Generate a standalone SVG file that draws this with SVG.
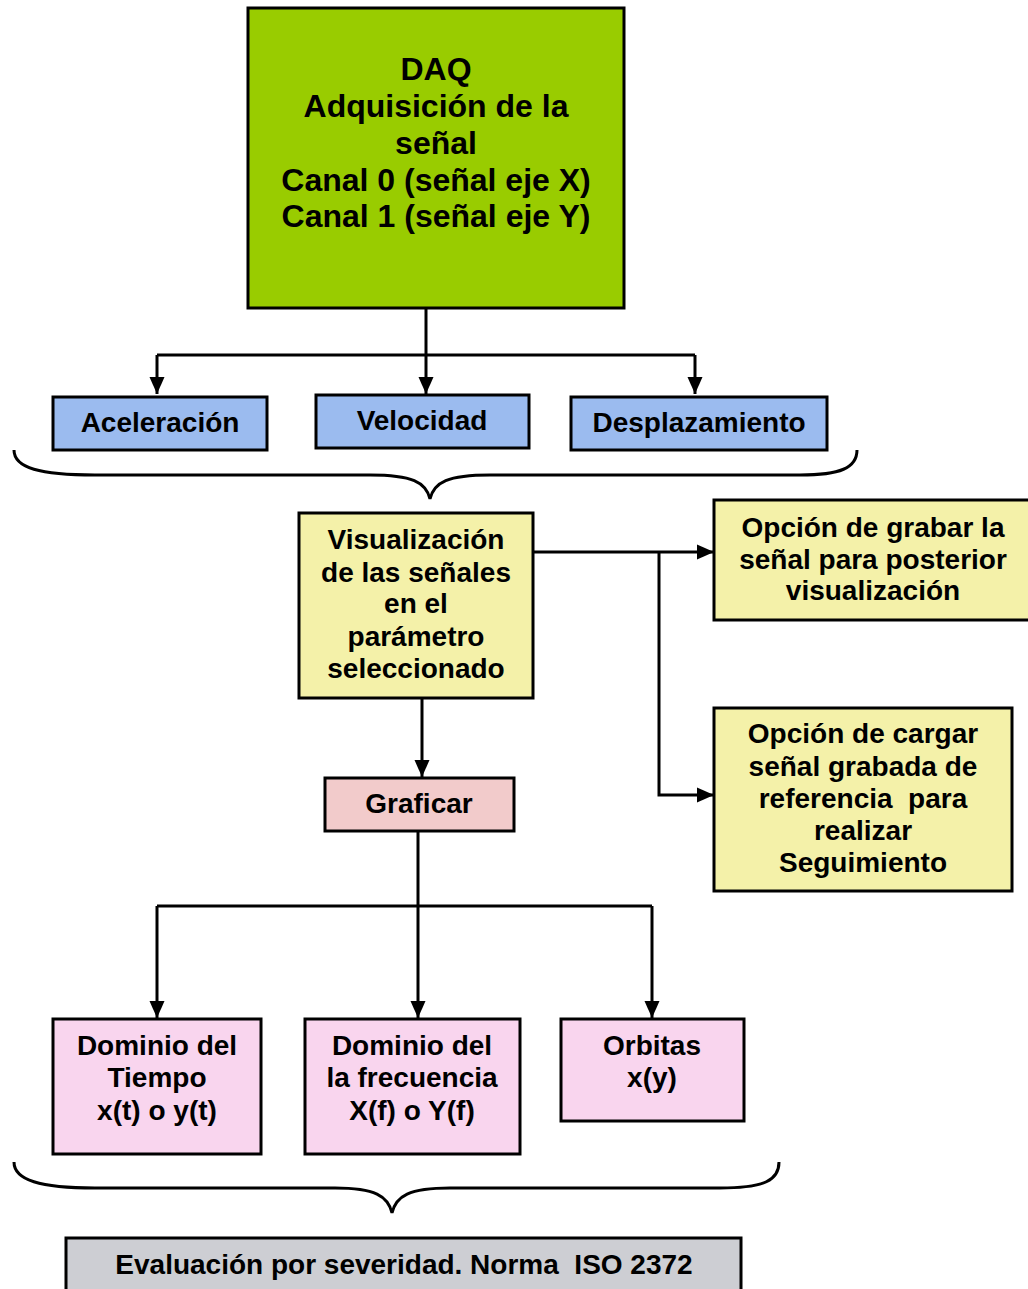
<svg xmlns="http://www.w3.org/2000/svg" width="1028" height="1289" viewBox="0 0 1028 1289">
<style>
.box{stroke:#000;stroke-width:3}
.t{font-family:"Liberation Sans",Arial,sans-serif;font-weight:bold;font-size:28px;fill:#000;text-anchor:middle;white-space:pre}
.big{font-size:32px}
.ln{fill:none;stroke:#000;stroke-width:3}
</style>
<defs>
<marker id="ah" markerUnits="userSpaceOnUse" markerWidth="18" markerHeight="18" viewBox="0 0 18 18" refX="17" refY="9" orient="auto">
<path d="M0,1.5 L17,9 L0,16.5 Z" fill="#000"/>
</marker>
</defs>
<rect width="1028" height="1289" fill="#fff"/>
<g id="connectors">
<path class="ln" d="M426,308 V355"/>
<path class="ln" d="M157,355 H695"/>
<path class="ln" d="M157,355 V394" marker-end="url(#ah)"/>
<path class="ln" d="M426,355 V394" marker-end="url(#ah)"/>
<path class="ln" d="M695,355 V394" marker-end="url(#ah)"/>
<path class="ln" d="M14,450 C14,468 40,475 95,475 L370,475 C412,475 426,482 430,499 C434,482 448,475 490,475 L800,475 C840,475 857,468 857,450"/>
<path class="ln" d="M533,552 H714" marker-end="url(#ah)"/>
<path class="ln" d="M659,552 V795 H714" marker-end="url(#ah)"/>
<path class="ln" d="M422,698 V777" marker-end="url(#ah)"/>
<path class="ln" d="M418,831 V1018" marker-end="url(#ah)"/>
<path class="ln" d="M157,906 H652"/>
<path class="ln" d="M157,906 V1018" marker-end="url(#ah)"/>
<path class="ln" d="M652,906 V1018" marker-end="url(#ah)"/>
<path class="ln" d="M14,1162 C14,1180 40,1188 95,1188 L335,1188 C375,1188 388,1196 392,1213 C396,1196 409,1188 450,1188 L720,1188 C765,1188 779,1180 779,1162"/>
</g>
<g id="daq">
<rect class="box" x="248" y="8" width="376" height="300" fill="#99CC00"/>
<text class="t big" x="436" y="80">DAQ</text>
<text class="t big" x="436" y="117">Adquisición de la</text>
<text class="t big" x="436" y="154">señal</text>
<text class="t big" x="436" y="191">Canal 0 (señal eje X)</text>
<text class="t big" x="436" y="227">Canal 1 (señal eje Y)</text>
</g>
<g id="aceleracion">
<rect class="box" x="53" y="397" width="214" height="53" fill="#9BBBEF"/>
<text class="t" x="160" y="432">Aceleración</text>
</g>
<g id="velocidad">
<rect class="box" x="316" y="395" width="213" height="53" fill="#9BBBEF"/>
<text class="t" x="422" y="430">Velocidad</text>
</g>
<g id="desplazamiento">
<rect class="box" x="571" y="397" width="256" height="53" fill="#9BBBEF"/>
<text class="t" x="699" y="432">Desplazamiento</text>
</g>
<g id="visualizacion">
<rect class="box" x="299" y="513" width="234" height="185" fill="#F4F1A9"/>
<text class="t" x="416" y="549">Visualización</text>
<text class="t" x="416" y="582">de las señales</text>
<text class="t" x="416" y="613">en el</text>
<text class="t" x="416" y="646">parámetro</text>
<text class="t" x="416" y="678">seleccionado</text>
</g>
<g id="grabar">
<rect class="box" x="714" y="500" width="320" height="120" fill="#F4F1A9"/>
<text class="t" x="873" y="537">Opción de grabar la</text>
<text class="t" x="873" y="569">señal para posterior</text>
<text class="t" x="873" y="600">visualización</text>
</g>
<g id="cargar">
<rect class="box" x="714" y="708" width="298" height="183" fill="#F4F1A9"/>
<text class="t" x="863" y="743">Opción de cargar</text>
<text class="t" x="863" y="776">señal grabada de</text>
<text class="t" x="863" y="808">referencia  para</text>
<text class="t" x="863" y="840">realizar</text>
<text class="t" x="863" y="872">Seguimiento</text>
</g>
<g id="graficar">
<rect class="box" x="325" y="778" width="189" height="53" fill="#F2CBCB"/>
<text class="t" x="419" y="813">Graficar</text>
</g>
<g id="tiempo">
<rect class="box" x="53" y="1019" width="208" height="135" fill="#F9D5EE"/>
<text class="t" x="157" y="1055">Dominio del</text>
<text class="t" x="157" y="1087">Tiempo</text>
<text class="t" x="157" y="1120">x(t) o y(t)</text>
</g>
<g id="frecuencia">
<rect class="box" x="305" y="1019" width="215" height="135" fill="#F9D5EE"/>
<text class="t" x="412" y="1055">Dominio del</text>
<text class="t" x="412" y="1087">la frecuencia</text>
<text class="t" x="412" y="1120">X(f) o Y(f)</text>
</g>
<g id="orbitas">
<rect class="box" x="561" y="1019" width="183" height="102" fill="#F9D5EE"/>
<text class="t" x="652" y="1055">Orbitas</text>
<text class="t" x="652" y="1087">x(y)</text>
</g>
<g id="evaluacion">
<rect class="box" x="66" y="1238" width="675" height="60" fill="#CDCED3"/>
<text class="t" x="404" y="1274">Evaluación por severidad. Norma  ISO 2372</text>
</g>
</svg>
